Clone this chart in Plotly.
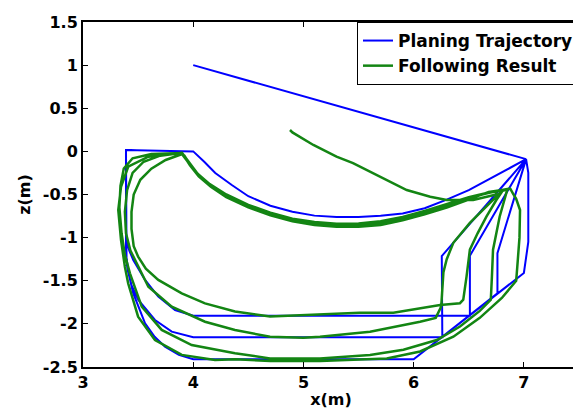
import plotly.graph_objects as go

# ---------------- tick labels ----------------
x_tickvals = [3, 4, 5, 6, 7]
x_ticktext = ["3", "4", "5", "6", "7"]
z_tickvals = [1.5, 1.0, 0.5, 0.0, -0.5, -1.0, -1.5, -2.0, -2.5]
z_ticktext = ["1.5", "1", "0.5", "0", "-0.5", "-1", "-1.5", "-2", "-2.5"]

# ---------------- planning trajectory (blue) segments ----------------
plan_start_x = [4.0, 7.02]
plan_start_z = [1.0, -0.09]
plan_arc_x = [7.02, 6.85, 6.7, 6.5, 6.3, 6.1, 5.9, 5.7, 5.5, 5.3, 5.1, 4.9, 4.7, 4.5, 4.35, 4.2, 4.1, 4.0]
plan_arc_z = [-0.09, -0.21, -0.31, -0.45, -0.56, -0.66, -0.72, -0.745, -0.76, -0.76, -0.745, -0.70, -0.63, -0.52, -0.39, -0.25, -0.12, 0.0]
plan_top_x = [3.39]
plan_top_z = [0.015]
plan_loopA_x = [3.39, 3.40, 3.42, 3.456, 3.563, 3.683, 3.835, 4.0, 6.51, 6.51, 7.02]
plan_loopA_z = [-0.95, -1.05, -1.15, -1.259, -1.491, -1.684, -1.839, -1.905, -1.905, -1.21, -0.09]
plan_loopB_x = [3.39, 3.395, 3.405, 3.44, 3.502, 3.653, 3.805, 4.0, 6.26, 6.255, 7.02]
plan_loopB_z = [-1.15, -1.28, -1.375, -1.55, -1.723, -1.955, -2.09, -2.155, -2.155, -1.213, -0.09]
plan_loopC_x = [3.39, 3.397, 3.42, 3.456, 3.563, 3.65, 3.744, 3.87, 4.0, 6.0, 6.76, 6.76, 7.02]
plan_loopC_z = [-1.15, -1.259, -1.45, -1.646, -1.993, -2.15, -2.265, -2.36, -2.41, -2.41, -1.646, -1.18, -0.09]
plan_loopD_x = [3.39, 3.397, 3.42, 3.456, 3.563, 3.65, 3.744, 3.87, 4.0, 6.0, 7.0, 7.04, 7.04, 7.02]
plan_loopD_z = [-1.15, -1.259, -1.45, -1.646, -1.993, -2.15, -2.265, -2.36, -2.41, -2.41, -1.41, -1.05, -0.25, -0.09]

plan_x, plan_z = list(plan_start_x), list(plan_start_z)
for lx, lz in [(plan_loopA_x, plan_loopA_z), (plan_loopB_x, plan_loopB_z),
               (plan_loopC_x, plan_loopC_z), (plan_loopD_x, plan_loopD_z)]:
    plan_x += plan_arc_x + plan_top_x + lx
    plan_z += plan_arc_z + plan_top_z + lz

# ---------------- following result (green) segments ----------------
follow_start_x = [4.878, 4.90, 5.09, 5.30, 5.45, 5.695, 5.937, 6.15, 6.30, 6.54, 6.75]
follow_start_z = [0.248, 0.22, 0.074, -0.06, -0.135, -0.29, -0.448, -0.525, -0.564, -0.564, -0.50]

follow_arc1_x = [6.75, 6.62, 6.5, 6.3, 6.1, 5.9, 5.7, 5.5, 5.3, 5.1, 4.9, 4.7, 4.5, 4.3, 4.15, 4.05, 3.97, 3.92, 3.90]
follow_arc1_z = [-0.46, -0.50, -0.55, -0.64, -0.72, -0.79, -0.84, -0.86, -0.86, -0.84, -0.80, -0.73, -0.64, -0.52, -0.40, -0.28, -0.15, -0.05, -0.03]
follow_arc2_x = [6.80, 6.65, 6.5, 6.3, 6.1, 5.9, 5.7, 5.5, 5.3, 5.1, 4.9, 4.7, 4.5, 4.3, 4.15, 4.04, 3.96, 3.91, 3.89]
follow_arc2_z = [-0.45, -0.49, -0.54, -0.62, -0.70, -0.77, -0.82, -0.845, -0.85, -0.83, -0.79, -0.72, -0.63, -0.51, -0.39, -0.27, -0.14, -0.05, -0.02]
follow_arc3_x = [6.85, 6.68, 6.5, 6.3, 6.1, 5.9, 5.7, 5.5, 5.3, 5.1, 4.9, 4.7, 4.5, 4.3, 4.16, 4.05, 3.97, 3.92, 3.90]
follow_arc3_z = [-0.44, -0.47, -0.56, -0.65, -0.73, -0.80, -0.855, -0.875, -0.875, -0.855, -0.81, -0.74, -0.65, -0.53, -0.41, -0.29, -0.16, -0.06, -0.02]
follow_arc4_x = [6.88, 6.7, 6.5, 6.3, 6.1, 5.9, 5.7, 5.5, 5.3, 5.1, 4.9, 4.7, 4.5, 4.3, 4.15, 4.04, 3.96, 3.91, 3.90]
follow_arc4_z = [-0.43, -0.47, -0.53, -0.61, -0.69, -0.76, -0.81, -0.835, -0.84, -0.82, -0.78, -0.71, -0.62, -0.50, -0.38, -0.26, -0.13, -0.04, -0.02]

follow_loopA_x = [3.75, 3.62, 3.52, 3.46, 3.44, 3.44, 3.46, 3.50, 3.533, 3.57, 3.683, 3.896, 4.107, 4.379, 4.697,
                  5.0, 5.24, 5.51, 5.816, 6.058, 6.24, 6.42, 6.45, 6.48, 6.51, 6.58, 6.66, 6.75, 6.80]
follow_loopA_z = [-0.10, -0.20, -0.33, -0.50, -0.70, -0.90, -1.10, -1.22, -1.28, -1.36, -1.49, -1.646, -1.762, -1.857, -1.915,
                  -1.90, -1.886, -1.87, -1.87, -1.82, -1.78, -1.76, -1.72, -1.45, -1.14, -0.95, -0.757, -0.564, -0.47]
follow_loopB_x = [3.70, 3.55, 3.45, 3.40, 3.38, 3.39, 3.43, 3.487, 3.593, 3.805, 4.107, 4.379, 4.697, 5.0, 5.15,
                  5.604, 6.058, 6.2, 6.25, 6.26, 6.27, 6.30, 6.36, 6.51, 6.66, 6.75, 6.80]
follow_loopB_z = [-0.05, -0.12, -0.25, -0.45, -0.70, -0.95, -1.15, -1.30, -1.569, -1.80, -1.975, -2.07, -2.15, -2.16, -2.149,
                  -2.09, -1.975, -1.93, -1.80, -1.60, -1.40, -1.25, -1.06, -0.83, -0.64, -0.52, -0.46]
follow_loopC_x = [3.62, 3.45, 3.37, 3.34, 3.33, 3.35, 3.38, 3.426, 3.533, 3.714, 3.986, 4.379, 4.697, 5.15, 5.604,
                  5.907, 6.21, 6.42, 6.6, 6.70, 6.71, 6.72, 6.78, 6.845, 6.85]
follow_loopC_z = [-0.03, -0.08, -0.20, -0.40, -0.65, -0.95, -1.20, -1.414, -1.80, -2.07, -2.245, -2.34, -2.40, -2.40, -2.36,
                  -2.30, -2.187, -2.03, -1.85, -1.72, -1.45, -1.14, -0.757, -0.486, -0.44]
follow_loopD_x = [3.593, 3.41, 3.345, 3.32, 3.345, 3.38, 3.41, 3.50, 3.653, 3.896, 4.198, 4.379, 4.7, 5.15, 5.756,
                  6.058, 6.36, 6.6, 6.8, 6.93, 6.94, 6.96, 6.965, 6.93, 6.90, 6.875]
follow_loopD_z = [-0.062, -0.178, -0.41, -0.68, -1.03, -1.337, -1.53, -1.917, -2.187, -2.36, -2.42, -2.41, -2.43, -2.43, -2.40,
                  -2.32, -2.149, -1.93, -1.70, -1.50, -1.34, -1.0, -0.68, -0.55, -0.486, -0.43]

follow_x, follow_z = list(follow_start_x), list(follow_start_z)
for ax_, az_, lx, lz in [(follow_arc1_x, follow_arc1_z, follow_loopA_x, follow_loopA_z),
                         (follow_arc2_x, follow_arc2_z, follow_loopB_x, follow_loopB_z),
                         (follow_arc3_x, follow_arc3_z, follow_loopC_x, follow_loopC_z),
                         (follow_arc4_x, follow_arc4_z, follow_loopD_x, follow_loopD_z)]:
    follow_x += ax_ + lx
    follow_z += az_ + lz

BLUE = "#0000ff"
GREEN = "#138513"
FONT = "DejaVu Sans, sans-serif"

fig = go.Figure()
fig.add_trace(go.Scatter(x=plan_x, y=plan_z, mode="lines", name="Planing Trajectory",
                         line=dict(color=BLUE, width=2)))
fig.add_trace(go.Scatter(x=follow_x, y=follow_z, mode="lines", name="Following Result",
                         line=dict(color=GREEN, width=2.5)))

axis_common = dict(showgrid=False, zeroline=False, showline=True, linecolor="black", linewidth=2,
                   mirror="ticks", ticks="inside", ticklen=5, tickcolor="black", tickwidth=1,
                   tickfont=dict(family=FONT, size=16, color="black", weight="bold"))

# the page body adds an 8px offset, so the figure is sized to fit inside the window
fig.update_layout(
    width=573, height=406,
    margin=dict(l=75, r=2, t=14, b=47, autoexpand=False),
    plot_bgcolor="white", paper_bgcolor="white",
    showlegend=True,
    legend=dict(x=1, y=1, xanchor="right", yanchor="top",
                bgcolor="white", bordercolor="black", borderwidth=1,
                font=dict(family=FONT, size=17, color="black", weight="bold"),
                tracegroupgap=0, itemwidth=30),
    xaxis=dict(range=[3, 7.5], tickvals=x_tickvals, ticktext=x_ticktext,
               title=dict(text="x(m)", standoff=3,
                          font=dict(family=FONT, size=16, color="black", weight="bold")),
               **axis_common),
    yaxis=dict(range=[-2.5, 1.5], tickvals=z_tickvals, ticktext=z_ticktext,
               title=dict(text="z(m)", standoff=8,
                          font=dict(family=FONT, size=16, color="black", weight="bold")),
               **axis_common),
)

fig.write_html("out.html")
